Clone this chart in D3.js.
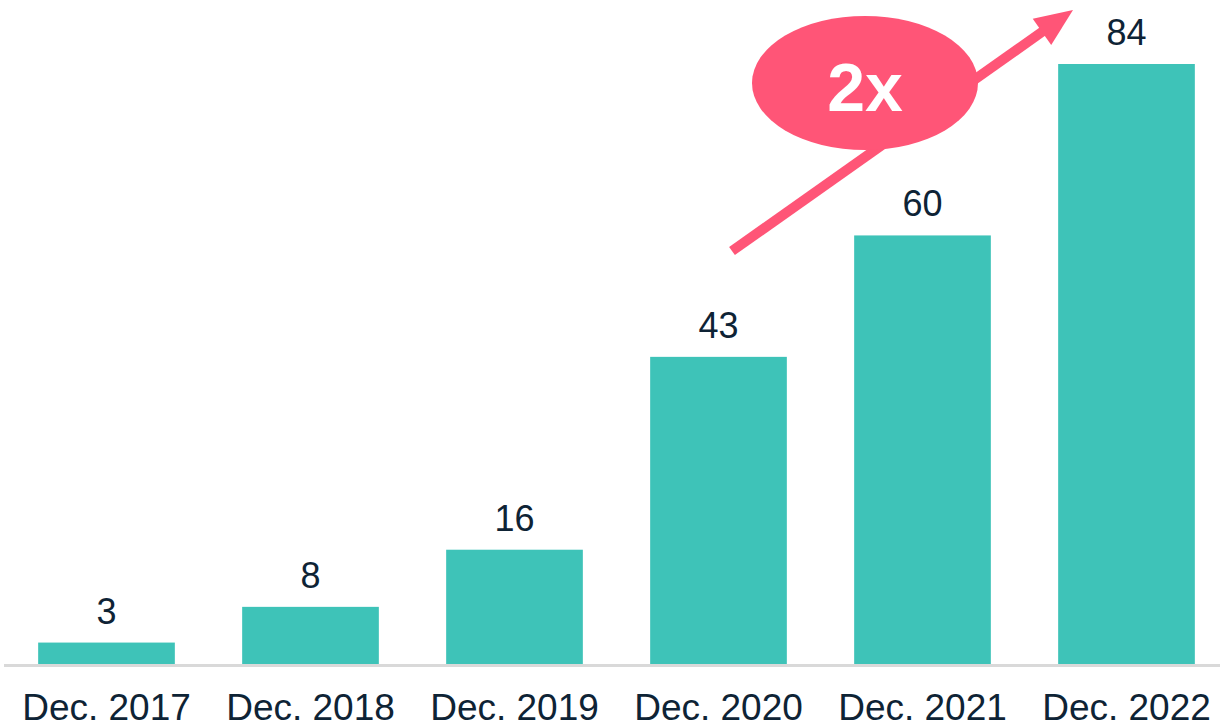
<!DOCTYPE html>
<html><head><meta charset="utf-8">
<script src="https://cdn.jsdelivr.net/npm/d3@7"></script>
<style>html,body{margin:0;padding:0;background:#fff;}svg{display:block;}</style>
</head><body>
<svg id="chart" width="1220" height="725"></svg>
<script>
const categories = ["Dec. 2017","Dec. 2018","Dec. 2019","Dec. 2020","Dec. 2021","Dec. 2022"];
const values = [3, 8, 16, 43, 60, 84];
const annotationText = "2x";

const svg = d3.select("#chart");
const W = 1220, H = 725;
const baseY = 664, topY = 64;
const x = d3.scaleBand().domain(categories).range([4.5, 1228.5]).paddingInner(0.33).paddingOuter(0.165);
const y = d3.scaleLinear().domain([0, 84]).range([baseY, topY]);
const font = "Arial, 'Liberation Sans', Helvetica, sans-serif";
const textColor = "#0e2335";

svg.append("g").selectAll("rect").data(values).join("rect")
  .attr("x", (d,i) => x(categories[i]))
  .attr("width", x.bandwidth())
  .attr("y", d => y(d))
  .attr("height", d => y(0) - y(d))
  .attr("fill", "#3ec3b8");

// axis
const axis = d3.axisBottom(x).tickSize(0).tickPadding(0);
const ag = svg.append("g").attr("transform", `translate(0,${baseY})`).call(axis);
ag.select(".domain").remove();
ag.append("line").attr("x1", 4).attr("x2", W).attr("y1", 1.5).attr("y2", 1.5)
  .attr("stroke", "#d9d9d9").attr("stroke-width", 3);
ag.selectAll(".tick text")
  .attr("y", 56).attr("dy", null)
  .attr("font-family", font).attr("font-size", 37).attr("fill", textColor);

// value labels
svg.append("g").selectAll("text").data(values).join("text")
  .attr("x", (d,i) => x(categories[i]) + x.bandwidth()/2)
  .attr("y", d => y(d) - 19)
  .attr("text-anchor", "middle")
  .attr("font-family", font).attr("font-size", 36).attr("fill", textColor)
  .text(d => d);

// annotation arrow
const pink = "#ff5577";
const ax0 = 732, ay0 = 251, ax1 = 1073, ay1 = 10;
const ang = Math.atan2(ay1 - ay0, ax1 - ax0);
const headLen = 38, headW = 16;
const bx = ax1 - headLen*Math.cos(ang), by = ay1 - headLen*Math.sin(ang);
svg.append("line").attr("x1", ax0).attr("y1", ay0).attr("x2", bx + 2*Math.cos(ang)).attr("y2", by + 2*Math.sin(ang))
  .attr("stroke", pink).attr("stroke-width", 10);
const px = -Math.sin(ang), py = Math.cos(ang);
svg.append("path")
  .attr("d", `M${ax1},${ay1} L${bx + headW*px},${by + headW*py} L${bx - headW*px},${by - headW*py} Z`)
  .attr("fill", pink);

svg.append("ellipse").attr("cx", 865).attr("cy", 83).attr("rx", 113).attr("ry", 67).attr("fill", pink);
svg.append("text").attr("x", 865).attr("y", 111).attr("text-anchor", "middle")
  .attr("font-family", font).attr("font-weight", "bold").attr("font-size", 68).attr("fill", "#fff")
  .text(annotationText);
</script>
</body></html>
